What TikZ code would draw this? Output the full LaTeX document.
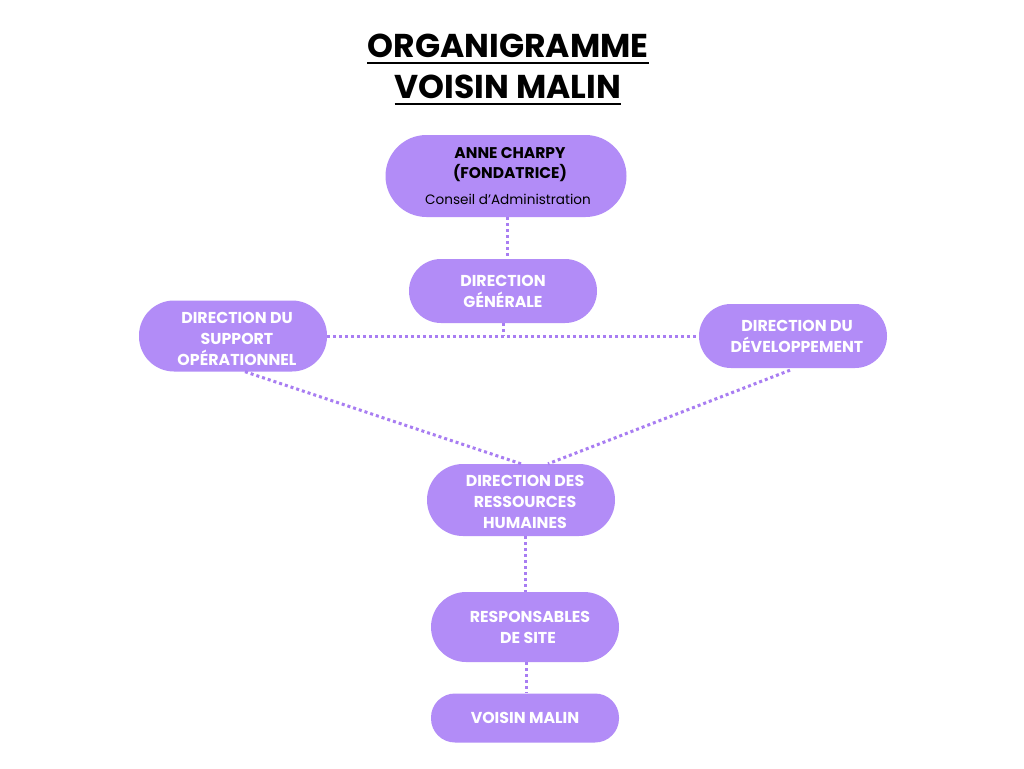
\documentclass[tikz,border=0pt]{standalone}
\usepackage{fontspec}
\setmainfont{Poppins}
\usetikzlibrary{calc}
\definecolor{lav}{HTML}{B28CF7}
\definecolor{lavline}{HTML}{A87DF2}
\tikzset{
  box/.style={fill=lav, rounded corners=#1, inner sep=0pt, text=white, align=center,
    font=\fontsize{15.8}{21}\selectfont\bfseries},
  box/.default=30pt,
  boxtext/.style={text=white, align=center, inner sep=0pt, font=\fontsize{15.8}{21}\selectfont\bfseries},
  link/.style={draw=lavline, line width=3pt, dash pattern=on 3pt off 3pt},
  ttl/.style={font=\fontsize{33}{36}\selectfont\bfseries, inner sep=0pt},
}
\begin{document}
\begin{tikzpicture}[x=1pt,y=-1pt]
\useasboundingbox[fill=white] (0,0) rectangle (1024,768);
% title
\node[ttl, anchor=base] (t1) at (508,57) {ORGANIGRAMME};
\node[ttl, anchor=base] (t2) at (508,98) {VOISIN MALIN};
\draw[line width=2.8pt] ($(t1.base west)+(0,6)$) -- ($(t1.base east)+(0,6)$);
\draw[line width=2.8pt] ($(t2.base west)+(0,6)$) -- ($(t2.base east)+(0,6)$);
% nodes
\node[box=41pt, minimum width=241pt, minimum height=82pt] (anne) at (506,176) {};
\node[text=black, align=center, font=\fontsize{15.5}{20}\selectfont\bfseries] (anneT) at (510,165) {ANNE CHARPY\\(FONDATRICE)};
\node[font=\fontsize{13.6}{15}\selectfont] (cons) at (508,199) {Conseil d'Administration};
\node[box=32pt, minimum width=188pt, minimum height=64pt] (dg) at (503,291) {DIRECTION\\GÉNÉRALE};
\node[box=35pt, minimum width=188pt, minimum height=71pt] (sup) at (233,336) {};
\node[boxtext] (supT) at (237,339) {DIRECTION DU\\SUPPORT\\OPÉRATIONNEL};
\node[box=32pt, minimum width=188pt, minimum height=64pt] (dev) at (793,336) {};
\node[boxtext] (devT) at (797,336) {DIRECTION DU\\DÉVELOPPEMENT};
\node[box=36pt, minimum width=188pt, minimum height=72pt] (drh) at (521,500) {};
\node[boxtext] (drhT) at (525,502) {DIRECTION DES\\RESSOURCES\\HUMAINES};
\node[box=35pt, minimum width=188pt, minimum height=70pt] (resp) at (525,627) {\hspace*{10pt}RESPONSABLES\\\hspace*{6pt}DE SITE};
\node[box=24pt, minimum width=188pt, minimum height=49pt] (vm) at (525,718) {VOISIN MALIN};
% connectors
\coordinate (j) at (503,336);
\draw[link] (anne.south -| 507,0) -- (dg.north -| 507,0);
\draw[link] (dg.south) -- (j);
\draw[link] (sup.east) -- (dev.west);
\draw[link] ($(sup.south)+(12,0)$) -- ($(drh.north)+(0,0)$);
\draw[link] ($(dev.south)+(-3,2)$) -- ($(drh.north)+(27,0)$);
\draw[link] (drh.south -| 525,0) -- (resp.north -| 525,0);
\draw[link] (resp.south -| 526,0) -- (vm.north -| 526,0);
\end{tikzpicture}
\end{document}
